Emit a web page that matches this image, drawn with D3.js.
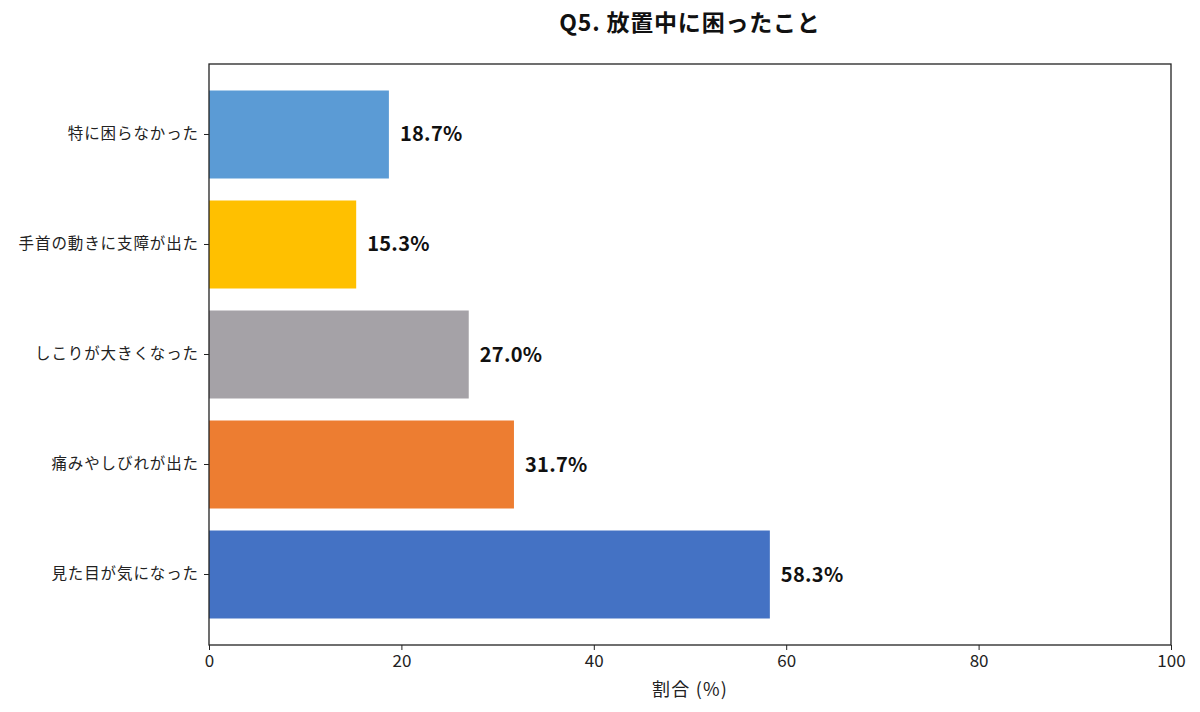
<!DOCTYPE html>
<html>
<head>
<meta charset="utf-8">
<script src="https://cdn.jsdelivr.net/npm/d3@7"></script>
<style>
  body { margin: 0; background: #fff; }
  text { font-family: "Noto Sans CJK JP", "Noto Sans", sans-serif; }
</style>
</head>
<body>
<div id="chart"></div>
<script>
var categories = ['特に困らなかった', '手首の動きに支障が出た', 'しこりが大きくなった', '痛みやしびれが出た', '見た目が気になった'];
var values = [18.7, 15.3, 27.0, 31.7, 58.3];
var colors = ['#5B9BD5', '#FFC000', '#A5A2A7', '#ED7D31', '#4472C4'];
var xTicks = [0, 20, 40, 60, 80, 100];

var width = 1200;
var height = 712;
var margin = { top: 64, right: 29, bottom: 67, left: 209 };

var svg = d3.select('#chart')
  .append('svg')
  .attr('width', width)
  .attr('height', height);

var x = d3.scaleLinear()
  .domain([0, 100])
  .range([margin.left, width - margin.right]);

// matplotlib style: bar height 0.8 with 5% margins
var y = d3.scaleBand()
  .domain(categories)
  .range([margin.top, height - margin.bottom])
  .paddingInner(0.2)
  .paddingOuter(0.2409);

svg.append('g')
  .selectAll('rect')
  .data(categories)
  .enter()
  .append('rect')
  .attr('x', x(0))
  .attr('y', function(d) { return y(d); })
  .attr('width', function(d, i) { return x(values[i]) - x(0); })
  .attr('height', y.bandwidth())
  .style('fill', function(d, i) { return colors[i]; });

svg.append('g')
  .selectAll('text')
  .data(categories)
  .enter()
  .append('text')
  .attr('x', function(d, i) { return x(values[i]) + 11; })
  .attr('y', function(d) { return y(d) + y.bandwidth() / 2; })
  .attr('dy', '0.35em')
  .attr('font-size', 20)
  .attr('font-weight', 'bold')
  .attr('letter-spacing', 0.3)
  .attr('fill', '#111')
  .text(function(d, i) { return values[i].toFixed(1) + '%'; });

// frame
svg.append('rect')
  .attr('x', margin.left)
  .attr('y', margin.top)
  .attr('width', width - margin.left - margin.right)
  .attr('height', height - margin.top - margin.bottom)
  .style('fill', 'none')
  .style('stroke', '#222')
  .style('stroke-width', 1.3);

var xAxis = svg.append('g')
  .attr('transform', 'translate(0,' + (height - margin.bottom) + ')')
  .call(d3.axisBottom(x).tickValues(xTicks).tickSize(5).tickPadding(5));
xAxis.select('.domain').remove();
xAxis.selectAll('text').attr('font-size', 17).attr('fill', '#222');
xAxis.selectAll('line').attr('stroke', '#222');

var yAxis = svg.append('g')
  .attr('transform', 'translate(' + margin.left + ',0)')
  .call(d3.axisLeft(y).tickSize(5).tickPadding(5));
yAxis.select('.domain').remove();
yAxis.selectAll('text').attr('font-size', 15.5).attr('letter-spacing', 0.9).attr('fill', '#222');
yAxis.selectAll('line').attr('stroke', '#222');

svg.append('text')
  .attr('x', (margin.left + width - margin.right) / 2)
  .attr('y', 696)
  .attr('text-anchor', 'middle')
  .attr('font-size', 18)
  .attr('letter-spacing', 1.2)
  .attr('fill', '#222')
  .text('割合 (%)');

svg.append('text')
  .attr('x', (margin.left + width - margin.right) / 2)
  .attr('y', 31)
  .attr('text-anchor', 'middle')
  .attr('font-size', 23)
  .attr('font-weight', 'bold')
  .attr('letter-spacing', 0.8)
  .attr('fill', '#111')
  .text('Q5. 放置中に困ったこと');
</script>
</body>
</html>
